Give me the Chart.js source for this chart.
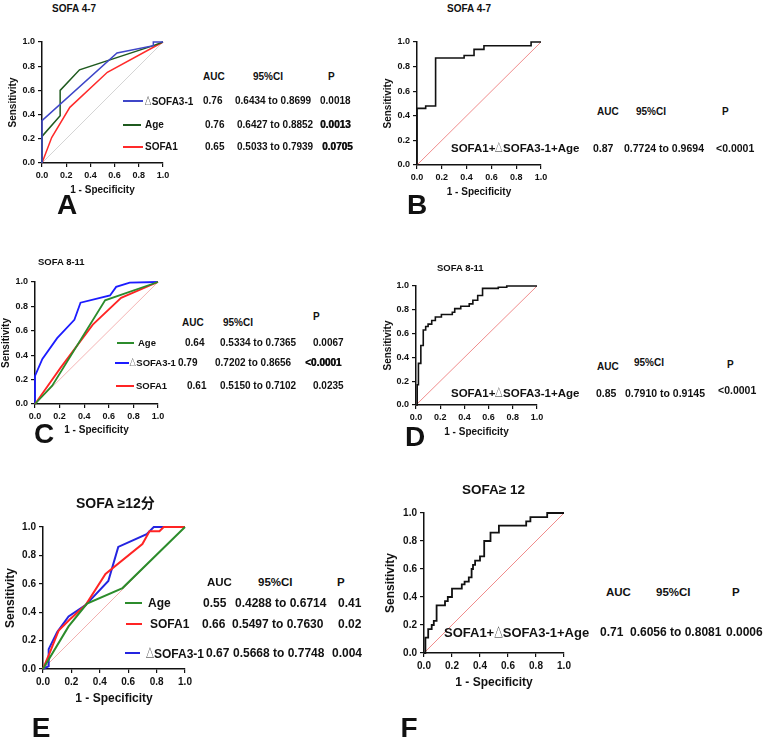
<!DOCTYPE html>
<html>
<head>
<meta charset="utf-8">
<script src="https://cdn.jsdelivr.net/npm/chart.js@4.4.1/dist/chart.umd.min.js"></script>
<style>
  body { margin: 0; background: #fff; }
  #fig { position: relative; width: 767px; height: 743px; overflow: hidden;
         font-family: "Liberation Sans", Arial, "Noto Sans CJK SC", sans-serif; font-weight: bold; color: #111; }
  #fig canvas { position: absolute; }
  .t { position: absolute; white-space: pre; line-height: 1; transform: translateY(-50%); }
  .tri { display: inline-block; transform: scaleX(0.66); margin: 0 -0.17em;
         font-family: "Noto Sans CJK SC", sans-serif; font-weight: normal; }
  .sw { position: absolute; height: 2px; }
</style>
</head>
<body>
<div id="fig"></div>
<script>
// ---- data ----
const tickVals = [0, 0.2, 0.4, 0.6, 0.8, 1.0];
const diagX = [0, 1];
const diagY = [0, 1];
const tableHead = ['AUC', '95%CI', 'P'];

// A: SOFA 4-7
const aDeltaFpr = [0, 0, 0.62, 0.92, 0.92, 1];
const aDeltaTpr = [0, 0.35, 0.91, 0.97, 1, 1];
const aAgeFpr = [0, 0, 0.15, 0.15, 0.31, 0.92, 1];
const aAgeTpr = [0, 0.22, 0.39, 0.60, 0.77, 0.97, 1];
const aSofaFpr = [0, 0.08, 0.23, 0.54, 1];
const aSofaTpr = [0, 0.21, 0.46, 0.75, 1];
const aNames = ['\u25B3SOFA3-1', 'Age', 'SOFA1'];
const aAuc = ['0.76', '0.76', '0.65'];
const aCi = ['0.6434 to 0.8699', '0.6427 to 0.8852', '0.5033 to 0.7939'];
const aP = ['0.0018', '0.0013', '0.0705'];

// B: SOFA 4-7 combined
const bFpr = [0, 0, 0.07, 0.15, 0.38, 0.46, 0.54, 0.92, 1];
const bTpr = [0, 0.46, 0.48, 0.87, 0.89, 0.94, 0.97, 1.0, 1.0];
const bNames = ['SOFA1+\u25B3SOFA3-1+Age'];
const bAuc = ['0.87'];
const bCi = ['0.7724 to 0.9694'];
const bP = ['<0.0001'];

// C: SOFA 8-11
const cAgeFpr = [0, 0.14, 0.57, 1];
const cAgeTpr = [0, 0.15, 0.85, 1];
const cDeltaFpr = [0, 0, 0.06, 0.18, 0.32, 0.37, 0.61, 0.66, 0.77, 1];
const cDeltaTpr = [0, 0.23, 0.37, 0.54, 0.69, 0.83, 0.89, 0.96, 0.995, 1];
const cSofaFpr = [0, 0.21, 0.47, 0.70, 1];
const cSofaTpr = [0, 0.30, 0.65, 0.87, 1];
const cNames = ['Age', '\u25B3SOFA3-1', 'SOFA1'];
const cAuc = ['0.64', '0.79', '0.61'];
const cCi = ['0.5334 to 0.7365', '0.7202 to 0.8656', '0.5150 to 0.7102'];
const cP = ['0.0067', '<0.0001', '0.0235'];

// D: SOFA 8-11 combined
const dFpr = [0, 0.01, 0.02, 0.04, 0.06, 0.08, 0.10, 0.13, 0.16, 0.21, 0.30, 0.32, 0.37, 0.44, 0.47, 0.51, 0.55, 0.68, 0.75, 1];
const dTpr = [0, 0.17, 0.35, 0.50, 0.63, 0.66, 0.68, 0.71, 0.74, 0.76, 0.78, 0.81, 0.83, 0.85, 0.88, 0.92, 0.98, 0.99, 1.0, 1.0];
const dNames = ['SOFA1+\u25B3SOFA3-1+Age'];
const dAuc = ['0.85'];
const dCi = ['0.7910 to 0.9145'];
const dP = ['<0.0001'];

// E: SOFA >=12
const eAgeFpr = [0, 0.18, 0.31, 0.56, 1];
const eAgeTpr = [0, 0.30, 0.46, 0.57, 1];
const eSofaFpr = [0, 0.05, 0.11, 0.19, 0.30, 0.44, 0.70, 0.75, 0.82, 0.85, 1];
const eSofaTpr = [0, 0.12, 0.27, 0.35, 0.45, 0.67, 0.88, 0.97, 0.97, 1.0, 1.0];
const eDeltaFpr = [0, 0.04, 0.04, 0.10, 0.18, 0.30, 0.46, 0.53, 0.73, 0.78, 1];
const eDeltaTpr = [0, 0.02, 0.14, 0.26, 0.37, 0.45, 0.62, 0.86, 0.95, 1.0, 1.0];
const eNames = ['Age', 'SOFA1', '\u25B3SOFA3-1'];
const eAuc = ['0.55', '0.66', '0.67'];
const eCi = ['0.4288 to 0.6714', '0.5497 to 0.7630', '0.5668 to 0.7748'];
const eP = ['0.41', '0.02', '0.004'];

// F: SOFA >=12 combined
const fFpr = [0, 0.01, 0.03, 0.055, 0.07, 0.09, 0.15, 0.17, 0.20, 0.27, 0.29, 0.32, 0.34, 0.35, 0.365, 0.40, 0.43, 0.475, 0.535, 0.73, 0.76, 0.88, 1];
const fTpr = [0, 0.11, 0.17, 0.20, 0.23, 0.34, 0.37, 0.40, 0.46, 0.49, 0.51, 0.54, 0.60, 0.63, 0.66, 0.69, 0.80, 0.86, 0.91, 0.94, 0.97, 1.0, 1.0];
const fNames = ['SOFA1+\u25B3SOFA3-1+Age'];
const fAuc = ['0.71'];
const fCi = ['0.6056 to 0.8081'];
const fP = ['0.0006'];

// ---- helpers ----
const fig = document.getElementById('fig');
const FONT = '"Liberation Sans", Arial, "Noto Sans CJK SC", sans-serif';
Chart.defaults.font.family = FONT;

function text(str, x, y, size, opts = {}) {
  const d = document.createElement('div');
  d.className = 't';
  // the triangle glyph comes from the CJK font, squeeze it a bit
  str.split('\u25B3').forEach((part, i) => {
    if (i > 0) {
      const s = document.createElement('span');
      s.className = 'tri';
      s.textContent = '\u25B3';
      d.appendChild(s);
    }
    d.appendChild(document.createTextNode(part));
  });
  d.style.left = x + 'px';
  d.style.top = y + 'px';
  d.style.fontSize = size + 'px';
  if (opts.center) d.style.transform = 'translate(-50%,-50%)';
  if (opts.heavy) d.style.textShadow = '0.5px 0 0 #111';
  fig.appendChild(d);
}

function swatch(x1, x2, y, color) {
  const d = document.createElement('div');
  d.className = 'sw';
  d.style.left = x1 + 'px';
  d.style.width = (x2 - x1) + 'px';
  d.style.top = (y - 1) + 'px';
  d.style.background = color;
  fig.appendChild(d);
}

function series(fpr, tpr, color, width, stepped) {
  return {
    data: fpr.map((x, i) => ({ x: x, y: tpr[i] })),
    borderColor: color,
    borderWidth: width,
    pointRadius: 0,
    showLine: true,
    fill: false,
    tension: 0,
    stepped: stepped || false,
    clip: false
  };
}

function roc(p, datasets) {
  const lh = p.title * 1.2;
  const cl = Math.round(p.yTitleX - lh / 2);
  const ct = p.t - 10;
  const cw = p.r + 14 - cl;
  const ch = Math.round(p.xTitleY + lh / 2) - ct;
  const yw = p.l - cl;
  const xh = ch - 10 - (p.b - p.t);

  const canvas = document.createElement('canvas');
  canvas.width = cw;
  canvas.height = ch;
  canvas.style.left = cl + 'px';
  canvas.style.top = ct + 'px';
  canvas.style.width = cw + 'px';
  canvas.style.height = ch + 'px';
  fig.appendChild(canvas);

  const tickFont = { family: FONT, size: p.tick, weight: 'bold' };
  const titleFont = { family: FONT, size: p.title, weight: 'bold', lineHeight: 1.2 };
  const axis = (title, fit) => ({
    type: 'linear',
    min: 0,
    max: 1,
    afterBuildTicks: s => { s.ticks = tickVals.map(v => ({ value: v })); },
    afterFit: fit,
    ticks: { color: '#111', font: tickFont, padding: 3, maxRotation: 0, autoSkip: false,
             callback: v => Number(v).toFixed(1) },
    grid: { drawOnChartArea: false, drawTicks: true, tickLength: 4, color: '#111', lineWidth: 1.2 },
    border: { color: '#111', width: 1.5 },
    title: { display: true, text: title, color: '#111', font: titleFont, padding: 0 }
  });

  new Chart(canvas.getContext('2d'), {
    type: 'scatter',
    data: { datasets: datasets },
    options: {
      responsive: false,
      animation: false,
      devicePixelRatio: 1,
      layout: { padding: { top: 10, right: 14, bottom: 0, left: 0 } },
      plugins: { legend: { display: false }, tooltip: { enabled: false } },
      scales: {
        x: axis('1 - Specificity', s => { s.height = xh; }),
        y: axis('Sensitivity', s => { s.width = yw; })
      }
    }
  });
}

function table(t, names, auc, ci, p, colors) {
  text(tableHead[0], t.head[0][0], t.head[0][1], t.headSize);
  text(tableHead[1], t.head[1][0], t.head[1][1], t.headSize);
  text(tableHead[2], t.head[2][0], t.head[2][1], t.headSize);
  names.forEach((n, i) => {
    const y = t.ys[i];
    if (colors) swatch(t.sw[i][0], t.sw[i][1], y, colors[i]);
    text(n, t.name[i], y, t.nameSize);
    text(auc[i], t.auc[i], y, t.size);
    text(ci[i], t.ci[i], y, t.size);
    text(p[i], t.p[i], t.pY ? t.pY[i] : y, t.size, { heavy: t.heavy && t.heavy[i] });
  });
}

// ---- panel A ----
const aColors = ['#3f46c8', '#1f5a1f', '#ff2a2a'];
text('SOFA 4-7', 52, 9, 10);
roc({ l: 42, t: 42, r: 163, b: 163, yTitleX: 13, xTitleY: 190, tick: 9, title: 10 }, [
  series(aDeltaFpr, aDeltaTpr, aColors[0], 1.5),
  series(aAgeFpr, aAgeTpr, aColors[1], 1.5),
  series(aSofaFpr, aSofaTpr, aColors[2], 1.5),
  series(diagX, diagY, '#d4d4d4', 1)
]);
table({ head: [[203, 77], [253, 77], [328, 77]], headSize: 10, ys: [101, 125, 147],
        sw: [[123, 143], [123, 141], [123, 143]],
        name: [145, 145, 145], auc: [203, 205, 205], ci: [235, 237, 237], p: [320, 320, 322],
        nameSize: 10, size: 10, heavy: [false, true, true] },
      aNames, aAuc, aCi, aP, aColors);
text('A', 67, 205, 28, { center: true });

// ---- panel B ----
text('SOFA 4-7', 447, 9, 10);
roc({ l: 417, t: 42, r: 541, b: 165, yTitleX: 388, xTitleY: 192, tick: 9, title: 10 }, [
  series(bFpr, bTpr, '#111', 1.6, 'before'),
  series(diagX, diagY, '#f08c8c', 1)
]);
table({ head: [[597, 112], [636, 112], [722, 112]], headSize: 10, ys: [148],
        name: [451], auc: [593], ci: [624], p: [716], nameSize: 11.5, size: 10.5 },
      bNames, bAuc, bCi, bP, null);
text('B', 417, 205, 28, { center: true });

// ---- panel C ----
const cColors = ['#2c8c2c', '#1c1cff', '#ff2424'];
text('SOFA 8-11', 38, 262, 9.5);
roc({ l: 35, t: 282, r: 158, b: 404, yTitleX: 6, xTitleY: 430, tick: 9, title: 10 }, [
  series(cAgeFpr, cAgeTpr, cColors[0], 1.8),
  series(cSofaFpr, cSofaTpr, cColors[2], 1.8),
  series(cDeltaFpr, cDeltaTpr, cColors[1], 1.8),
  series(diagX, diagY, '#f4b4b4', 1)
]);
table({ head: [[182, 323], [223, 323], [313, 317]], headSize: 10, ys: [343, 363, 386],
        sw: [[117, 134], [115, 129], [116, 134]],
        name: [138, 130, 136], auc: [185, 178, 187], ci: [220, 215, 220], p: [313, 305, 313],
        nameSize: 9.5, size: 10, heavy: [false, true, false] },
      cNames, cAuc, cCi, cP, cColors);
text('C', 44, 434, 28, { center: true });

// ---- panel D ----
text('SOFA 8-11', 437, 268, 9.5);
roc({ l: 416, t: 286, r: 537, b: 405, yTitleX: 388, xTitleY: 432, tick: 9, title: 10 }, [
  series(dFpr, dTpr, '#111', 1.6, 'before'),
  series(diagX, diagY, '#f08c8c', 1)
]);
table({ head: [[597, 367], [634, 363], [727, 365]], headSize: 10, ys: [393],
        name: [451], auc: [596], ci: [625], p: [718], pY: [390], nameSize: 11.5, size: 10.5 },
      dNames, dAuc, dCi, dP, null);
text('D', 415, 437, 28, { center: true });

// ---- panel E ----
const eColors = ['#2c8c2c', '#ff2424', '#2424e0'];
text('SOFA \u226512\u5206', 76, 503, 14);
roc({ l: 43, t: 527, r: 185, b: 669, yTitleX: 10, xTitleY: 699, tick: 10, title: 12 }, [
  series(eAgeFpr, eAgeTpr, eColors[0], 2),
  series(eSofaFpr, eSofaTpr, eColors[1], 2),
  series(eDeltaFpr, eDeltaTpr, eColors[2], 2),
  series(diagX, diagY, '#f2b0b0', 1)
]);
table({ head: [[207, 583], [258, 583], [337, 583]], headSize: 11.5, ys: [603, 624, 653],
        sw: [[125, 142], [126, 142], [125, 140]],
        name: [148, 150, 146], auc: [203, 202, 206], ci: [235, 232, 233], p: [338, 338, 332],
        nameSize: 12, size: 12 },
      eNames, eAuc, eCi, eP, eColors);
text('E', 41, 728, 28, { center: true });

// ---- panel F ----
text('SOFA\u2265 12', 462, 490, 13.5);
roc({ l: 424, t: 513, r: 564, b: 653, yTitleX: 390, xTitleY: 683, tick: 10, title: 12 }, [
  series(fFpr, fTpr, '#111', 1.8, 'before'),
  series(diagX, diagY, '#f08c8c', 1)
]);
table({ head: [[606, 593], [656, 593], [732, 593]], headSize: 11.5, ys: [632],
        name: [444], auc: [600], ci: [630], p: [726], nameSize: 13, size: 12 },
      fNames, fAuc, fCi, fP, null);
text('F', 409, 728, 28, { center: true });
</script>
</body>
</html>
